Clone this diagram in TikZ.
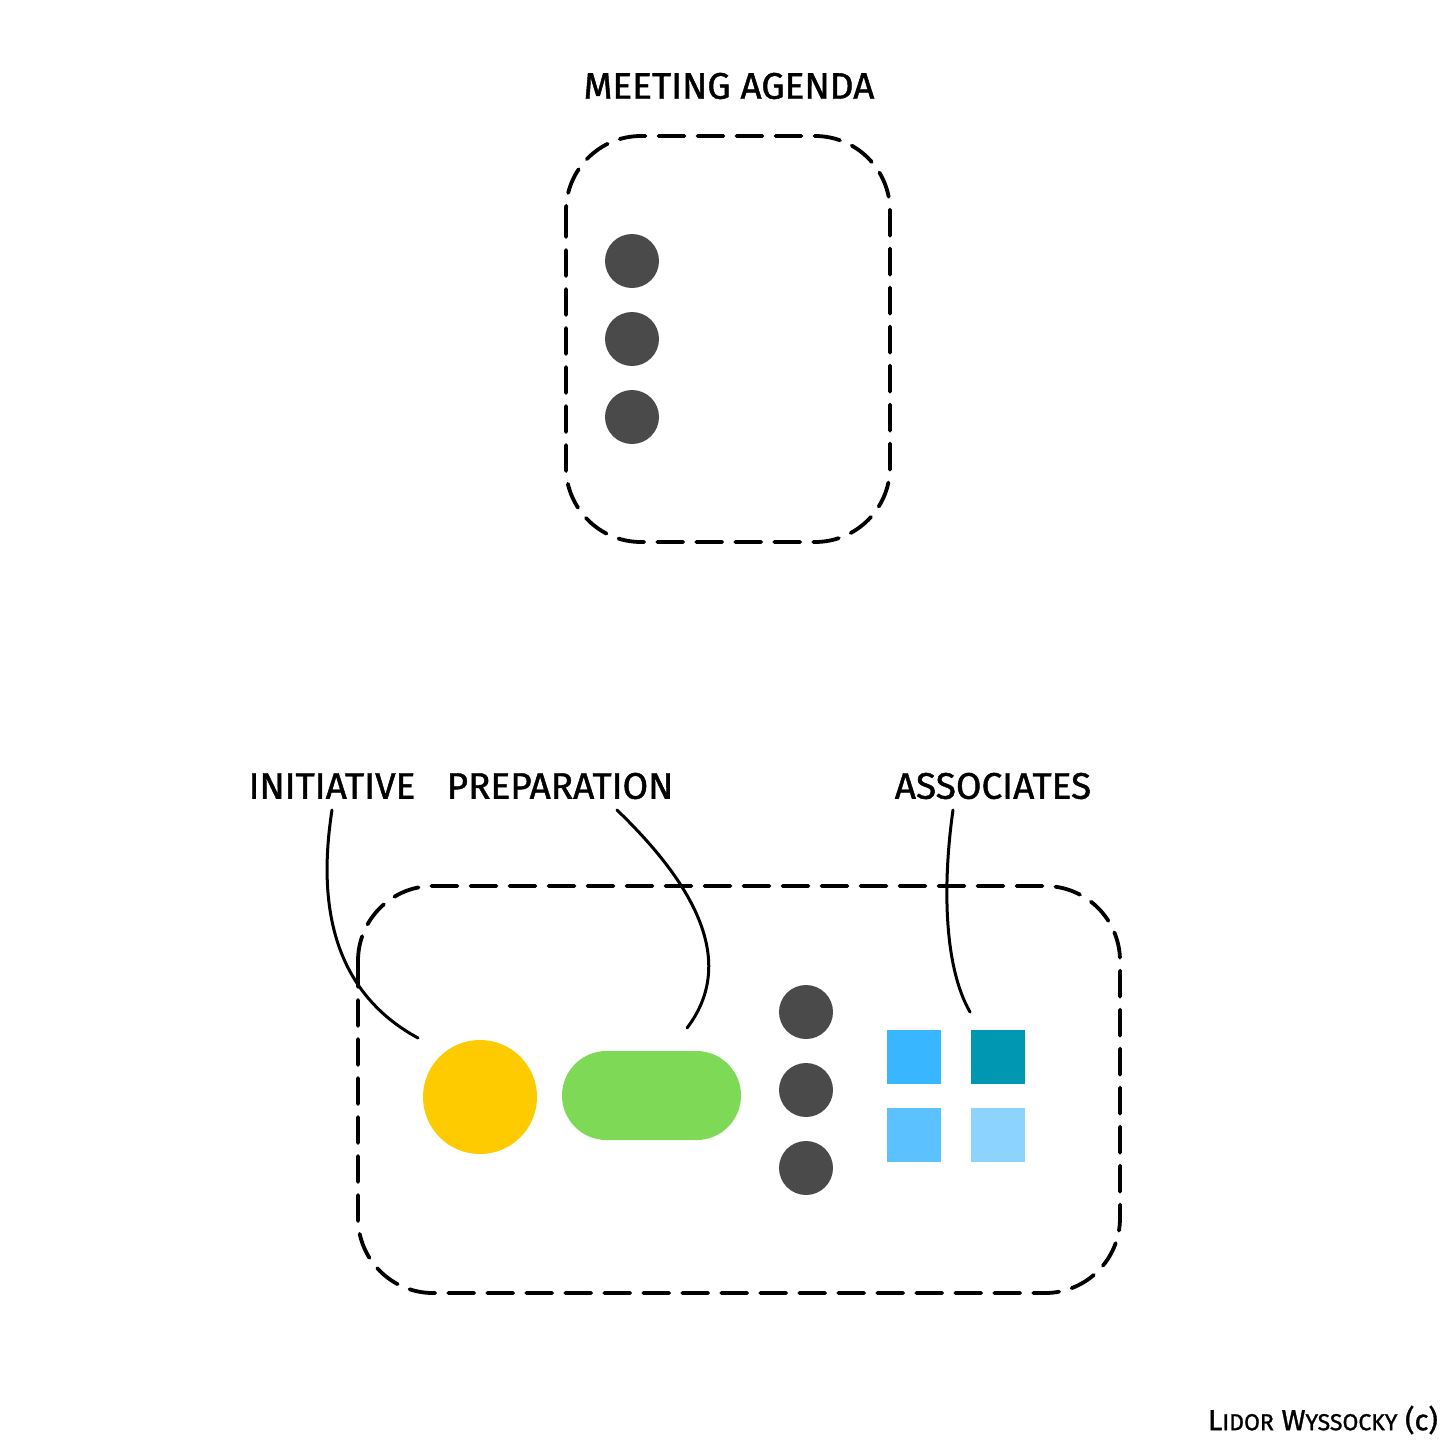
\documentclass[tikz,border=0pt]{standalone}
\usepackage{fontspec}
\setmainfont{Fira Sans}[FakeBold=1.2]
\definecolor{dotgray}{HTML}{4A4A4A}
\definecolor{sunyellow}{HTML}{FDCB00}
\definecolor{leafgreen}{HTML}{7ED957}
\definecolor{skyblue}{HTML}{38B6FF}
\definecolor{tealblue}{HTML}{0097B2}
\definecolor{midblue}{HTML}{5CC1FF}
\definecolor{paleblue}{HTML}{8CD3FF}
\begin{document}
\begin{tikzpicture}[x=1pt,y=-1pt,
  frame/.style={draw=black,line width=3.8pt,dash pattern=on 26pt off 13pt,rounded corners=75pt,line cap=round},
  dot/.style={circle,fill=dotgray,minimum size=54pt,inner sep=0pt},
  tile/.style={rectangle,minimum size=54pt,inner sep=0pt},
  lbl/.style={font=\fontsize{37}{44}\selectfont,inner sep=0pt,anchor=center},
  wire/.style={draw=black,line width=3pt,line cap=round}]
\useasboundingbox (0,0) rectangle (1456,1456);
\fill[white] (0,0) rectangle (1456,1456);
% top
\node[lbl] (title) at (729,86) {MEETING AGENDA};
\draw[frame] (566,136) rectangle (890,542);
\node[dot] (t1) at (632,261) {};
\node[dot] (t2) at (632,339) {};
\node[dot] (t3) at (632,417) {};
% bottom
\node[lbl] (init) at (332,786) {INITIATIVE};
\node[lbl] (prep) at (560,786) {PREPARATION};
\node[lbl] (assoc) at (993,786) {ASSOCIATES};
\draw[frame] (358,886) rectangle (1120,1293);
\node[circle,fill=sunyellow,minimum size=114pt,inner sep=0pt] (sun) at (480,1097) {};
\node[rectangle,rounded corners=44.5pt,fill=leafgreen,minimum width=179pt,minimum height=89pt,inner sep=0pt] (pill) at (651.5,1095.5) {};
\node[dot] (b1) at (806,1012) {};
\node[dot] (b2) at (806,1090) {};
\node[dot] (b3) at (806,1168) {};
\node[tile,fill=skyblue] (s1) at (914,1057) {};
\node[tile,fill=tealblue] (s2) at (998,1057) {};
\node[tile,fill=midblue] (s3) at (914,1135) {};
\node[tile,fill=paleblue] (s4) at (998,1135) {};
\coordinate (initend) at (418,1038);
\coordinate (prepend) at (687,1028);
\coordinate (assocend) at (970,1012);
\draw[wire] ([yshift=-24pt]init.center) .. controls (318,900) and (330,990) .. (initend);
\draw[wire] ([xshift=57pt,yshift=-24pt]prep.center) .. controls (700,890) and (735,965) .. (prepend);
\draw[wire] ([xshift=-40pt,yshift=-24pt]assoc.center) .. controls (943,880) and (943,965) .. (assocend);
\node[font=\fontsize{29}{34}\selectfont,anchor=east,inner sep=0pt] (credit) at (1438,1420) {L{\fontsize{23}{27}\selectfont IDOR} W{\fontsize{23}{27}\selectfont YSSOCKY} (c)};
\end{tikzpicture}
\end{document}
